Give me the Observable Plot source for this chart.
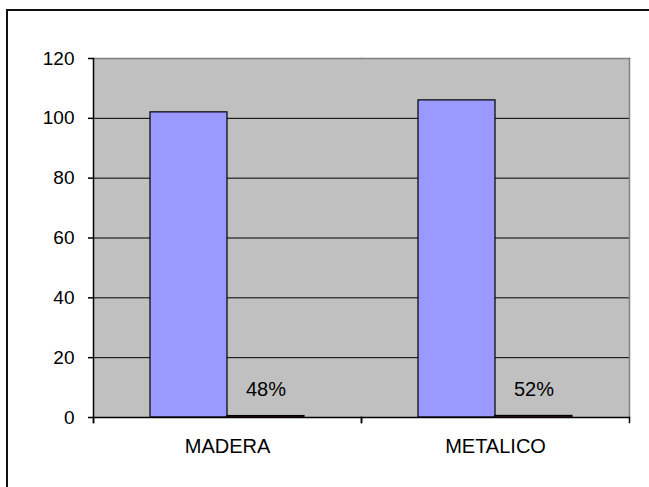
<!DOCTYPE html>
<html>
<head>
<meta charset="utf-8">
<script src="https://cdn.jsdelivr.net/npm/d3@7"></script>
<script src="https://cdn.jsdelivr.net/npm/@observablehq/plot@0.6"></script>
<style>
  html, body { margin: 0; padding: 0; background: #fff; }
  #wrap { position: relative; width: 649px; height: 487px; overflow: hidden; }
  #chartBorder {
    position: absolute; left: 6px; top: 9px; width: 700px; height: 600px;
    border-left: 2px solid #111; border-top: 2px solid #111;
  }
  #chart { position: absolute; left: 0; top: 0; }
  #chart rect.area { shape-rendering: crispEdges; }
</style>
</head>
<body>
<div id="wrap">
  <div id="chartBorder"></div>
  <div id="chart"></div>
</div>
<script>
// Categories and the two series: counts and their share of the total
const categories = ["MADERA", "METALICO"];
const counts = [102, 106];
const shares = [0.48, 0.52];
const yTicks = [0, 20, 40, 60, 80, 100, 120];
const seriesKeys = ["cantidad", "porcentaje"];

const countRows = categories.map((c, i) => ({cat: c, series: seriesKeys[0], value: counts[i]}));
const shareRows = categories.map((c, i) => ({cat: c, series: seriesKeys[1], value: shares[i]}));

const W = 649, H = 487;
const mL = 93, mR = 20, mT = 58, mB = 70;
const innerH = H - mT - mB;
const font = "'Liberation Sans', Arial, sans-serif";

const chart = Plot.plot({
  width: W,
  height: H,
  marginLeft: mL,
  marginRight: mR,
  marginTop: mT,
  marginBottom: mB,
  style: {background: "transparent", fontFamily: font, fontSize: "19px", color: "#000"},
  fx: {domain: categories, padding: 0, label: null},
  x: {domain: seriesKeys, paddingInner: 0, paddingOuter: 0.74, axis: null},
  y: {domain: [0, 120], label: null},
  marks: [
    // gray plot area (slightly overlapped so the two panels join without a seam)
    Plot.frame({fill: "#c0c0c0", stroke: null, insetLeft: -0.5, insetRight: -0.5, className: "area"}),
    // horizontal gridlines
    Plot.gridY(yTicks.filter(t => t > 0 && t < 120), {stroke: "#000", strokeOpacity: 1, strokeWidth: 1}),
    // count bars
    Plot.barY(countRows, {fx: "cat", x: "series", y: "value", fill: "#9999ff", stroke: "#000", strokeWidth: 1.2}),
    // share bars (tiny on this scale)
    Plot.barY(shareRows, {fx: "cat", x: "series", y: "value", fill: "#993366", stroke: "#000", strokeWidth: 1.2}),
    // share labels
    Plot.text(shareRows, {fx: "cat", x: "series", y: "value", text: d => d3.format(".0%")(d.value), dy: -26, fill: "#000", fontSize: 20}),
    // plot-area border: gray top and right edges
    Plot.frame({anchor: "top", stroke: "#808080", strokeWidth: 1.5}),
    Plot.frame({anchor: "right", fx: ["METALICO"], stroke: "#808080", strokeWidth: 1.5}),
    // baseline and left axis line
    Plot.ruleY([0], {stroke: "#000", strokeWidth: 1.5}),
    Plot.frame({anchor: "left", fx: ["MADERA"], stroke: "#000", strokeWidth: 1.5, insetBottom: -5}),
    // category separator ticks below the baseline
    Plot.frame({anchor: "left", stroke: "#000", strokeWidth: 1.5, insetTop: innerH, insetBottom: -5}),
    Plot.frame({anchor: "right", stroke: "#000", strokeWidth: 1.5, insetTop: innerH, insetBottom: -5}),
    // axes
    Plot.axisY({ticks: yTicks, tickSize: 5, tickPadding: 14, tickFormat: d3.format("d"), stroke: "#000", strokeWidth: 1.5, fontSize: 19}),
    Plot.axisFx({anchor: "bottom", tickSize: 0, tickPadding: 21, fontSize: 20, label: null})
  ]
});

document.getElementById("chart").appendChild(chart);
</script>
</body>
</html>
